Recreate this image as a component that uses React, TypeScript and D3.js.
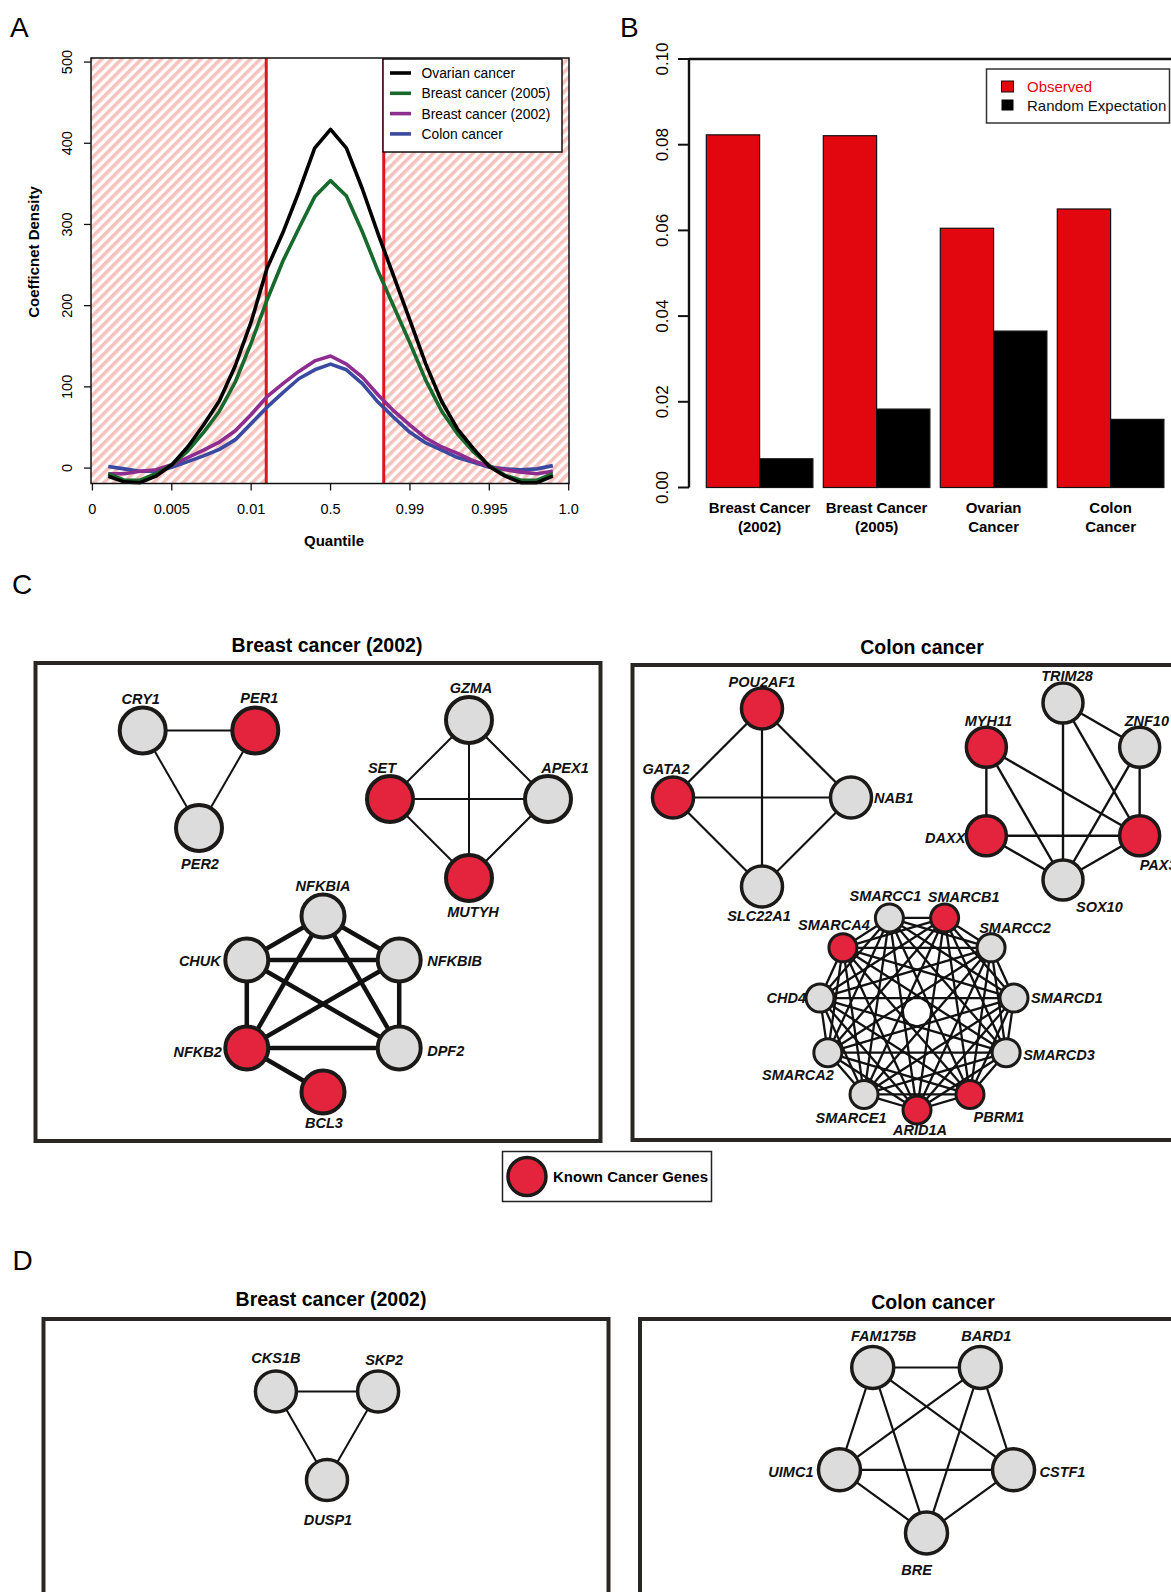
import React from "react";
import * as d3 from "d3";

const W = 1171;
const H = 1592;
const FONT = "'Liberation Sans', Arial, Helvetica, sans-serif";

// ---------- panel A: coefficient density by quantile ----------
const quantileTicks = ["0", "0.005", "0.01", "0.5", "0.99", "0.995", "1.0"];
const samplePos = [0.2, 0.4, 0.6, 0.8, 1.0, 1.2, 1.4, 1.6, 1.8, 2.0, 2.2, 2.4, 2.6, 2.8, 3.0,
  3.2, 3.4, 3.6, 3.8, 4.0, 4.2, 4.4, 4.6, 4.8, 5.0, 5.2, 5.4, 5.6, 5.8];
const ovarian = [-10, -17, -18, -10, 4, 26, 53, 83, 126, 180, 246, 290, 340, 394, 417,
  394, 344, 288, 235, 182, 128, 82, 48, 24, 2, -10, -18, -18, -10];
const breast2005 = [-7, -15, -15, -7, 4, 21, 44, 70, 106, 154, 207, 255, 295, 334, 354,
  335, 291, 242, 198, 154, 108, 70, 42, 20, 3, -9, -15, -15, -7];
const breast2002 = [-7, -7, -4, -2, 4, 13, 22, 32, 46, 66, 88, 104, 119, 132, 138,
  128, 112, 90, 70, 53, 37, 26, 18, 9, 2, -2, -5, -7, -4];
const colon = [2, -1, -4, -4, 1, 8, 15, 23, 35, 55, 75, 93, 110, 121, 128,
  121, 104, 81, 62, 44, 31, 22, 13, 7, 1, -1, -2, -1, 3];
const cutoffPos = [2.19, 3.67];
const densityTicks = [0, 100, 200, 300, 400, 500];

const densitySeries = [
  { name: "Ovarian cancer", values: ovarian, color: "#000000" },
  { name: "Breast cancer (2005)", values: breast2005, color: "#17692c" },
  { name: "Breast cancer (2002)", values: breast2002, color: "#8e2c8f" },
  { name: "Colon cancer", values: colon, color: "#3a4aa0" },
];

// ---------- panel B: observed vs random ----------
const barGroups = [["Breast Cancer", "(2002)"], ["Breast Cancer", "(2005)"], ["Ovarian", "Cancer"], ["Colon", "Cancer"]];
const observed = [0.0823, 0.0821, 0.0605, 0.065];
const randomExpectation = [0.0067, 0.0183, 0.0365, 0.0159];
const rateTicks = [0, 0.02, 0.04, 0.06, 0.08, 0.1];

// ---------- panels C and D: networks ----------
const knownCancerGenes = ["PER1", "SET", "MUTYH", "NFKB2", "BCL3", "POU2AF1", "GATA2",
  "MYH11", "DAXX", "PAX3", "SMARCB1", "SMARCA4", "PBRM1", "ARID1A"];

const clockGenes = ["CRY1", "PER1", "PER2"];
const clockEdges = [["CRY1", "PER1"], ["CRY1", "PER2"], ["PER1", "PER2"]];
const repairGenes = ["GZMA", "APEX1", "MUTYH", "SET"];
const repairEdges = [["GZMA", "APEX1"], ["GZMA", "MUTYH"], ["GZMA", "SET"], ["APEX1", "MUTYH"], ["APEX1", "SET"], ["MUTYH", "SET"]];
const nfkbGenes = ["NFKBIA", "NFKBIB", "DPF2", "BCL3", "NFKB2", "CHUK"];
const nfkbEdges = [["NFKBIA", "NFKBIB"], ["NFKBIA", "DPF2"], ["NFKBIA", "NFKB2"], ["NFKBIA", "CHUK"],
  ["NFKBIB", "DPF2"], ["NFKBIB", "NFKB2"], ["NFKBIB", "CHUK"], ["DPF2", "NFKB2"], ["DPF2", "CHUK"],
  ["NFKB2", "CHUK"], ["NFKB2", "BCL3"]];

const pouGenes = ["POU2AF1", "NAB1", "SLC22A1", "GATA2"];
const pouEdges = [["POU2AF1", "NAB1"], ["POU2AF1", "SLC22A1"], ["POU2AF1", "GATA2"], ["NAB1", "SLC22A1"], ["NAB1", "GATA2"], ["SLC22A1", "GATA2"]];
const trimGenes = ["TRIM28", "ZNF10", "PAX3", "SOX10", "DAXX", "MYH11"];
const trimEdges = [["TRIM28", "ZNF10"], ["TRIM28", "SOX10"], ["TRIM28", "PAX3"], ["ZNF10", "PAX3"], ["ZNF10", "SOX10"],
  ["MYH11", "DAXX"], ["MYH11", "SOX10"], ["MYH11", "PAX3"], ["DAXX", "PAX3"], ["DAXX", "SOX10"], ["SOX10", "PAX3"]];
const swiSnfGenes = ["ARID1A", "PBRM1", "SMARCD3", "SMARCD1", "SMARCC2", "SMARCB1", "SMARCC1",
  "SMARCA4", "CHD4", "SMARCA2", "SMARCE1"];

const skpGenes = ["CKS1B", "SKP2", "DUSP1"];
const skpEdges = [["CKS1B", "SKP2"], ["CKS1B", "DUSP1"], ["SKP2", "DUSP1"]];
const brcaGenes = ["BRE", "CSTF1", "BARD1", "FAM175B", "UIMC1"];

// every pair of a fully connected complex
function allPairs(genes: string[]) {
  const out: string[][] = [];
  genes.forEach((a, i) => genes.slice(i + 1).forEach((b) => out.push([a, b])));
  return out;
}

// polygon layout of each cluster
const clusters = [
  { genes: clockGenes, edges: clockEdges, cx: 199, cy: 763, radius: 65, start: -60, dir: 1, nodeR: 23, stroke: 4, edgeW: 2 },
  { genes: repairGenes, edges: repairEdges, cx: 469, cy: 799, radius: 79, start: 0, dir: 1, nodeR: 23, stroke: 4, edgeW: 2 },
  { genes: nfkbGenes, edges: nfkbEdges, cx: 323, cy: 1004, radius: 88, start: 0, dir: 1, nodeR: 21.5, stroke: 4, edgeW: 4.5 },
  { genes: pouGenes, edges: pouEdges, cx: 762, cy: 797.5, radius: 89, start: 0, dir: 1, nodeR: 20.5, stroke: 3.5, edgeW: 2.2 },
  { genes: trimGenes, edges: trimEdges, cx: 1063, cy: 791.5, radius: 88.5, start: 0, dir: 1, nodeR: 20, stroke: 3.5, edgeW: 2.4 },
  { genes: swiSnfGenes, edges: allPairs(swiSnfGenes), cx: 917, cy: 1012, radius: 98, start: 180, dir: -1, nodeR: 14, stroke: 3, edgeW: 2.3 },
  { genes: skpGenes, edges: skpEdges, cx: 327, cy: 1421, radius: 59, start: -60, dir: 1, nodeR: 20.5, stroke: 3.5, edgeW: 2 },
  { genes: brcaGenes, edges: allPairs(brcaGenes), cx: 926.5, cy: 1441.5, radius: 91.5, start: 180, dir: -1, nodeR: 21, stroke: 3.5, edgeW: 2.2 },
];

// label offset from node centre: dx, dy, anchor
const labelPlace: Record<string, [number, number, string]> = {
  CRY1: [-2, -32, "middle"], PER1: [4, -33, "middle"], PER2: [1, 36, "middle"],
  GZMA: [2, -32, "middle"], SET: [-8, -31, "middle"], APEX1: [17, -31, "middle"], MUTYH: [4, 34, "middle"],
  NFKBIA: [0, -30, "middle"], NFKBIB: [28, 1, "start"], DPF2: [28, 3, "start"], BCL3: [1, 31, "middle"],
  NFKB2: [-25, 4, "end"], CHUK: [-26, 1, "end"],
  POU2AF1: [0, -27, "middle"], NAB1: [23, 0, "start"], SLC22A1: [-3, 29, "middle"], GATA2: [-7, -29, "middle"],
  TRIM28: [4, -27, "middle"], ZNF10: [-15, -26, "start"], MYH11: [2, -26, "middle"], DAXX: [-21, 2, "end"],
  PAX3: [0, 29, "start"], SOX10: [13, 27, "start"],
  SMARCC1: [-4, -22, "middle"], SMARCB1: [19, -21, "middle"], SMARCC2: [24, -20, "middle"],
  SMARCD1: [17, 0, "start"], SMARCD3: [17, 2, "start"], PBRM1: [29, 22, "middle"], ARID1A: [3, 20, "middle"],
  SMARCE1: [-13, 23, "middle"], SMARCA2: [-30, 22, "middle"], CHD4: [-14, 0, "end"], SMARCA4: [-9, -23, "middle"],
  CKS1B: [0, -34, "middle"], SKP2: [6, -32, "middle"], DUSP1: [1, 40, "middle"],
  FAM175B: [11, -32, "middle"], BARD1: [6, -32, "middle"], CSTF1: [26, 2, "start"], BRE: [-10, 37, "middle"],
  UIMC1: [-26, 2, "end"],
};

const GREY = "#dcdcdc";
const RED = "#e4233d";
const INK = "#1c1a19";

function Network({ c }: { c: (typeof clusters)[number] }) {
  const n = c.genes.length;
  const angle = d3.scaleLinear().domain([0, n]).range([c.start, c.start + c.dir * 360]);
  const pos = new Map<string, [number, number]>();
  c.genes.forEach((g, i) => {
    const [x, y] = d3.pointRadial((angle(i) * Math.PI) / 180, c.radius);
    pos.set(g, [c.cx + x, c.cy + y]);
  });
  return (
    <g>
      {c.edges.map(([a, b], i) => {
        const p = pos.get(a)!, q = pos.get(b)!;
        return <line key={i} x1={p[0]} y1={p[1]} x2={q[0]} y2={q[1]} stroke="#111" strokeWidth={c.edgeW} />;
      })}
      {c.genes.map((g) => {
        const p = pos.get(g)!;
        return (
          <circle key={g} cx={p[0]} cy={p[1]} r={c.nodeR}
            fill={knownCancerGenes.includes(g) ? RED : GREY} stroke={INK} strokeWidth={c.stroke} />
        );
      })}
      {c.genes.map((g) => {
        const p = pos.get(g)!;
        const [dx, dy, anchor] = labelPlace[g];
        return (
          <text key={"t" + g} x={p[0] + dx} y={p[1] + dy} dy="0.36em" textAnchor={anchor}
            fontSize={14.5} fontWeight="bold" fontStyle="italic" fill="#111">{g}</text>
        );
      })}
    </g>
  );
}

function PanelA() {
  const x = d3.scaleLinear().domain([0, 6]).range([92.4, 568.7]);
  const y = d3.scaleLinear().domain([-19, 505]).range([483.5, 58]);
  const left = 91, right = 569, top = y.range()[1], bottom = y.range()[0];
  const line = d3.line<number>().x((_, i) => x(samplePos[i])).y((d) => y(d));
  return (
    <g>
      <defs>
        <pattern id="hatch" patternUnits="userSpaceOnUse" width={7} height={7} patternTransform="rotate(45)">
          <rect width={7} height={7} fill="#ffffff" />
          <rect width={3.6} height={7} fill="#f6c2be" />
        </pattern>
      </defs>
      <rect x={left} y={top} width={x(cutoffPos[0]) - left} height={bottom - top} fill="url(#hatch)" />
      <rect x={x(cutoffPos[1])} y={top} width={right - x(cutoffPos[1])} height={bottom - top} fill="url(#hatch)" />
      {cutoffPos.map((c) => (
        <line key={c} x1={x(c)} x2={x(c)} y1={top} y2={bottom} stroke="#e2141b" strokeWidth={3} />
      ))}
      {[...densitySeries].reverse().map((s) => (
        <path key={s.name} d={line(s.values)!} fill="none" stroke={s.color} strokeWidth={3.6} strokeLinejoin="round" />
      ))}
      <rect x={left} y={top} width={right - left} height={bottom - top} fill="none" stroke="#111" strokeWidth={1.5} />
      {densityTicks.map((t) => (
        <g key={t}>
          <line x1={left} x2={left - 7} y1={y(t)} y2={y(t)} stroke="#111" strokeWidth={1.3} />
          <text transform={`translate(67,${y(t)}) rotate(-90)`} dy="0.36em" textAnchor="middle" fontSize={14.5}>{t}</text>
        </g>
      ))}
      {quantileTicks.map((t, i) => (
        <g key={t}>
          <line x1={x(i)} x2={x(i)} y1={bottom} y2={bottom + 7} stroke="#111" strokeWidth={1.3} />
          <text x={x(i)} y={509} dy="0.36em" textAnchor="middle" fontSize={14.5}>{t}</text>
        </g>
      ))}
      <text x={334} y={541} dy="0.36em" textAnchor="middle" fontSize={15} fontWeight="bold">Quantile</text>
      <text transform="translate(33.5,252) rotate(-90)" dy="0.36em" textAnchor="middle" fontSize={15} fontWeight="bold">Coefficnet Density</text>
      <rect x={383} y={59} width={179} height={93} fill="#fff" stroke="#111" strokeWidth={1.5} />
      {densitySeries.map((s, i) => {
        const ly = 73 + i * 20.3;
        return (
          <g key={s.name}>
            <line x1={390} x2={411} y1={ly} y2={ly} stroke={s.color} strokeWidth={3.6} />
            <text x={421.5} y={ly} dy="0.36em" fontSize={13.8}>{s.name}</text>
          </g>
        );
      })}
      <text x={10} y={37} fontSize={28}>A</text>
    </g>
  );
}

function PanelB() {
  const y = d3.scaleLinear().domain([0, 0.1]).range([487.5, 59]);
  const gx = d3.scaleBand<number>().domain(barGroups.map((_, i) => i)).range([701.1, 1169.1])
    .paddingInner(0.089).paddingOuter(0.0445);
  const ix = d3.scaleBand<string>().domain(["observed", "random"]).range([0, gx.bandwidth()]);
  const axisX = 689;
  return (
    <g>
      {barGroups.map((lab, i) => (
        <g key={i} transform={`translate(${gx(i)},0)`}>
          <rect x={ix("observed")} y={y(observed[i])} width={ix.bandwidth()} height={y(0) - y(observed[i])}
            fill="#e2070f" stroke="#111" strokeWidth={1.2} />
          <rect x={ix("random")} y={y(randomExpectation[i])} width={ix.bandwidth()} height={y(0) - y(randomExpectation[i])}
            fill="#000" stroke="#111" strokeWidth={1.2} />
          {lab.map((l, k) => (
            <text key={k} x={gx.bandwidth() / 2} y={508 + k * 18.5} dy="0.36em" textAnchor="middle"
              fontSize={15} fontWeight="bold">{l}</text>
          ))}
        </g>
      ))}
      <line x1={axisX} x2={axisX} y1={y(0)} y2={y(0.1)} stroke="#111" strokeWidth={2.4} />
      <line x1={axisX} x2={W} y1={y(0.1)} y2={y(0.1)} stroke="#111" strokeWidth={2.4} />
      {rateTicks.map((t) => (
        <g key={t}>
          <line x1={axisX} x2={678} y1={y(t)} y2={y(t)} stroke="#111" strokeWidth={2} />
          <text transform={`translate(662,${y(t)}) rotate(-90)`} dy="0.36em" textAnchor="middle" fontSize={17}>
            {t.toFixed(2)}
          </text>
        </g>
      ))}
      <rect x={986.5} y={69} width={183} height={54} fill="#fff" stroke="#333" strokeWidth={1.5} />
      <rect x={1001.5} y={81} width={12} height={11} fill="#e2070f" stroke="#111" strokeWidth={1} />
      <rect x={1001.5} y={99.5} width={12} height={11} fill="#000" />
      <text x={1027} y={86.8} dy="0.36em" fontSize={15} fill="#e2070f">Observed</text>
      <text x={1027} y={105.3} dy="0.36em" fontSize={15} fill="#111">Random Expectation</text>
      <text x={620} y={37} fontSize={28}>B</text>
    </g>
  );
}

function Frame({ x, y, w, h, title, tx, ty }: { x: number; y: number; w: number; h: number; title: string; tx: number; ty: number }) {
  return (
    <g>
      <rect x={x} y={y} width={w} height={h} fill="none" stroke="#2a2624" strokeWidth={4} />
      <text x={tx} y={ty} dy="0.36em" textAnchor="middle" fontSize={19.5} fontWeight="bold">{title}</text>
    </g>
  );
}

export default function App() {
  return (
    <svg width={W} height={H} viewBox={`0 0 ${W} ${H}`} fontFamily={FONT}
      style={{ position: "absolute", left: 0, top: 0, display: "block", background: "#fff" }}>
      <rect width={W} height={H} fill="#fff" />
      <PanelA />
      <PanelB />

      <text x={12} y={594} fontSize={28}>C</text>
      <Frame x={35.5} y={663} w={565} h={478} title="Breast cancer (2002)" tx={327} ty={645} />
      <Frame x={632.5} y={665} w={600} h={475} title="Colon cancer" tx={922} ty={647} />
      {clusters.slice(0, 6).map((c, i) => <Network key={i} c={c} />)}

      <rect x={502.5} y={1151.5} width={209} height={50} fill="#fff" stroke="#222" strokeWidth={1.5} />
      <circle cx={527} cy={1176.5} r={19} fill={RED} stroke={INK} strokeWidth={3.5} />
      <text x={553} y={1176.5} dy="0.36em" fontSize={15} fontWeight="bold">Known Cancer Genes</text>

      <text x={12.5} y={1270} fontSize={28}>D</text>
      <Frame x={43.5} y={1319} w={565} h={400} title="Breast cancer (2002)" tx={331} ty={1299} />
      <Frame x={640} y={1319} w={600} h={400} title="Colon cancer" tx={933} ty={1302} />
      {clusters.slice(6).map((c, i) => <Network key={i} c={c} />)}
    </svg>
  );
}
